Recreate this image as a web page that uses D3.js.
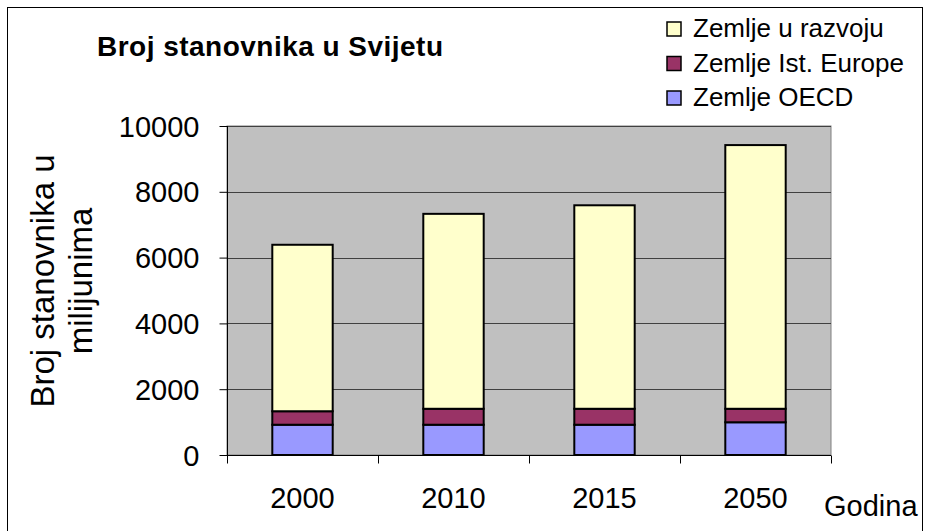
<!DOCTYPE html>
<html>
<head>
<meta charset="utf-8">
<script src="https://cdn.jsdelivr.net/npm/d3@7"></script>
<style>
  body { margin: 0; background: #fff; }
  svg text { font-family: Arial, "Liberation Sans", sans-serif; fill: #000; }
</style>
</head>
<body>
<div id="chart"></div>
<script>
// data (millions)
const years = ["2000", "2010", "2015", "2050"];
const oecd = [920, 920, 920, 995];
const istEurope = [410, 485, 485, 410];
const uRazvoju = [5060, 5925, 6185, 8015];
const seriesNames = ["Zemlje OECD", "Zemlje Ist. Europe", "Zemlje u razvoju"];
const seriesColors = ["#9999FF", "#993366", "#FFFFCC"];
const yTicks = [0, 2000, 4000, 6000, 8000, 10000];

var width = 926, height = 531;
var plot = {left: 227, right: 831, top: 126, bottom: 455};

var svg = d3.select("#chart").append("svg")
    .attr("width", width)
    .attr("height", height);

// outer chart border
svg.append("rect")
    .attr("x", 7.5).attr("y", 7.5)
    .attr("width", 915).attr("height", 540)
    .attr("fill", "#fff").attr("stroke", "#000").attr("stroke-width", 1);

var x = d3.scaleBand()
    .domain(years)
    .range([plot.left, plot.right])
    .paddingInner(0.6).paddingOuter(0.3);

var xb = d3.scaleBand().domain(years).range([plot.left, plot.right]);

var y = d3.scaleLinear()
    .domain([0, 10000])
    .range([plot.bottom, plot.top]);

// plot area
svg.append("rect")
    .attr("x", plot.left).attr("y", plot.top)
    .attr("width", plot.right - plot.left).attr("height", plot.bottom - plot.top)
    .attr("fill", "#C0C0C0").attr("stroke", "#808080");

svg.append("g")
    .selectAll("line")
    .data(yTicks.filter(d => d > 0))
    .join("line")
    .attr("x1", plot.left).attr("x2", plot.right)
    .attr("y1", d => Math.round(y(d)) + 0.5).attr("y2", d => Math.round(y(d)) + 0.5)
    .attr("stroke", "#404040").attr("stroke-width", 1);

// stacked bars
var rows = years.map((yr, i) => ({year: yr, s0: oecd[i], s1: istEurope[i], s2: uRazvoju[i]}));
var stack = d3.stack().keys(["s0", "s1", "s2"]);
var layers = stack(rows);

svg.append("g")
    .selectAll("g")
    .data(layers)
    .join("g")
    .attr("fill", (d, i) => seriesColors[i])
    .selectAll("rect")
    .data(d => d)
    .join("rect")
    .attr("x", d => x(d.data.year))
    .attr("y", d => y(d[1]))
    .attr("width", x.bandwidth())
    .attr("height", d => y(d[0]) - y(d[1]))
    .attr("stroke", "#000").attr("stroke-width", 2);

// y axis
var yAxis = svg.append("g")
    .attr("transform", "translate(" + (plot.left + 0.5) + ",0)")
    .call(d3.axisLeft(y).tickValues(yTicks).tickFormat(d3.format("d"))
        .tickSize(8).tickPadding(20).tickSizeOuter(0));
yAxis.select(".domain").attr("stroke", "#000").attr("d", "M0," + plot.top + "V" + (plot.bottom + 8));
yAxis.selectAll("text").attr("font-size", 29).attr("dy", "0.35em");

// x axis
var xAxis = svg.append("g")
    .attr("transform", "translate(0," + (plot.bottom + 0.5) + ")");
xAxis.append("line")
    .attr("x1", plot.left).attr("x2", plot.right)
    .attr("stroke", "#000");
xAxis.selectAll("line.tick")
    .data(years.map(d => xb(d)).concat([plot.right]))
    .join("line")
    .attr("class", "tick")
    .attr("x1", d => Math.round(d) + 0.5).attr("x2", d => Math.round(d) + 0.5)
    .attr("y1", 0).attr("y2", 8)
    .attr("stroke", "#000");
xAxis.selectAll("text")
    .data(years)
    .join("text")
    .attr("x", d => xb(d) + xb.bandwidth() / 2)
    .attr("y", 52)
    .attr("text-anchor", "middle")
    .attr("font-size", 29)
    .text(d => d);

svg.append("text")
    .attr("x", 824).attr("y", 516)
    .attr("font-size", 29)
    .text("Godina");

// y title
var yt = svg.append("text")
    .attr("transform", "translate(60,281) rotate(-90)")
    .attr("text-anchor", "middle")
    .attr("font-size", 33);
yt.append("tspan").attr("x", 0).attr("y", -6).text("Broj stanovnika u");
yt.append("tspan").attr("x", 0).attr("y", 32).text("milijunima");

// title
svg.append("text")
    .attr("x", 97).attr("y", 56)
    .attr("font-size", 28).attr("font-weight", "bold")
    .attr("textLength", 346).attr("lengthAdjust", "spacing")
    .text("Broj stanovnika u Svijetu");

// legend (top entry is last series)
var legendOrder = [2, 1, 0];
var lg = svg.append("g")
    .selectAll("g")
    .data(legendOrder)
    .join("g")
    .attr("transform", (d, i) => "translate(667," + (22 + i * 34.5) + ")");
lg.append("rect")
    .attr("width", 14).attr("height", 14)
    .attr("fill", d => seriesColors[d])
    .attr("stroke", "#000").attr("stroke-width", 1.5);
lg.append("text")
    .attr("x", 26).attr("y", 15)
    .attr("font-size", 26)
    .text(d => seriesNames[d]);
</script>
</body>
</html>
